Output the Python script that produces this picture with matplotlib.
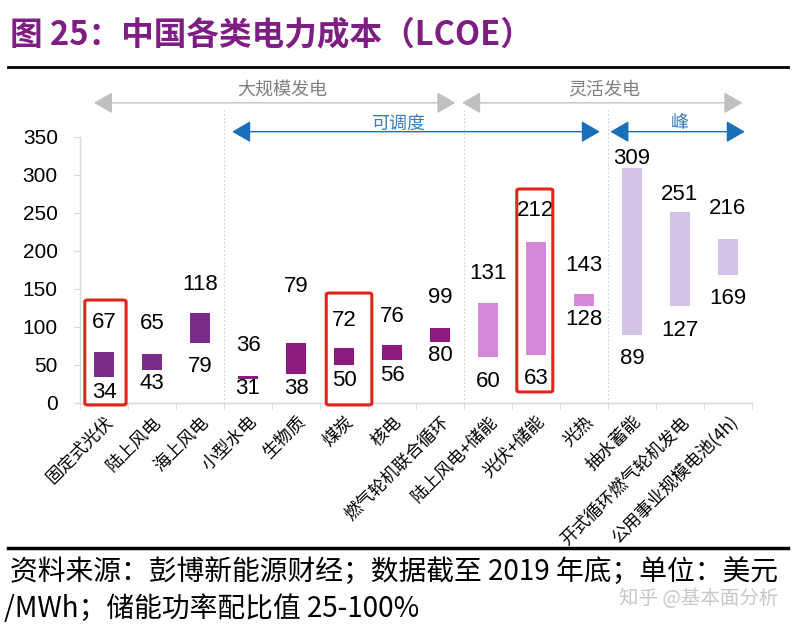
import matplotlib
matplotlib.use("Agg")
import matplotlib.pyplot as plt
from matplotlib.patches import FancyBboxPatch
import numpy as np

plt.rcParams['font.family'] = ['Noto Sans CJK SC', 'DejaVu Sans']

categories = ["固定式光伏", "陆上风电", "海上风电", "小型水电", "生物质", "煤炭", "核电",
              "燃气轮机联合循环", "陆上风电+储能", "光伏+储能", "光热", "抽水蓄能",
              "开式循环燃气轮机发电", "公用事业规模电池(4h)"]
low_values = [34, 43, 79, 31, 38, 50, 56, 80, 60, 63, 128, 89, 127, 169]
high_values = [67, 65, 118, 36, 79, 72, 76, 99, 131, 212, 143, 309, 251, 216]
y_ticks = [0, 50, 100, 150, 200, 250, 300, 350]

# styles
c_a, c_b, c_c, c_d = "#7B2D8E", "#8C1B7E", "#D487D8", "#D4C3E7"
bar_colors = [c_a, c_a, c_a, c_b, c_b, c_b, c_b, c_b, c_c, c_c, c_c, c_d, c_d, c_d]
top_off = [30, 30, 29, 30, 56, 28, 29, 30, 30, 31, 29, 10, 18, 30]
bot_off = [15, 13, 24, 9, 14, 15, 15, 13, 24, 23, 14, 23, 24, 24]
num_font = ['Liberation Sans', 'DejaVu Sans']

fig = plt.figure(figsize=(7.97, 6.28), dpi=100)
ax = fig.add_axes([80/797, 1-403/628, 672/797, 266/628])

x = np.arange(len(categories))
lows = np.array(low_values)
highs = np.array(high_values)
ax.bar(x, highs - lows, bottom=lows, width=0.42, color=bar_colors, zorder=3)

for i in range(len(x)):
    ax.annotate(str(high_values[i]), (x[i], high_values[i]), xytext=(0, top_off[i]),
                textcoords='offset pixels', ha='center', va='center', fontsize=16,
                family=num_font, color='black', zorder=5)
    ax.annotate(str(low_values[i]), (x[i], low_values[i]), xytext=(0, -bot_off[i]),
                textcoords='offset pixels', ha='center', va='center', fontsize=16,
                family=num_font, color='black', zorder=5)

ax.set_xlim(-0.5, len(categories) - 0.5)
ax.set_ylim(0, 350)
ax.set_yticks(y_ticks)
ax.set_yticklabels([str(v) for v in y_ticks], family=num_font, fontsize=15)
ax.tick_params(axis='y', length=4, color='#D9D9D9', pad=12)
ax.set_xticks(x)
ax.set_xticklabels(categories, rotation=45, ha='right', va='top', rotation_mode='anchor',
                   fontsize=12.5)
ax.tick_params(axis='x', length=0, pad=7)
ax.set_xticks(np.arange(-0.5, len(categories), 1), minor=True)
ax.tick_params(axis='x', which='minor', length=5, color='#D9D9D9')
for s in ['top', 'right']:
    ax.spines[s].set_visible(False)
for s in ['left', 'bottom']:
    ax.spines[s].set_color('#D9D9D9')
    ax.spines[s].set_linewidth(1)

# dotted separators
for xv in [2.5, 7.5, 10.5]:
    ax.plot([xv, xv], [0, 385], ls=(0, (1.5, 2)), color='#D0D0D0', lw=0.8, clip_on=False, zorder=1)

# group arrows
def arrow(x0, x1, y, color, lw):
    ax.annotate('', xy=(x1, y), xytext=(x0, y), xycoords='data', annotation_clip=False,
                arrowprops=dict(arrowstyle='<|-|>,head_length=0.5,head_width=0.29',
                                color=color, lw=lw, mutation_scale=23,
                                shrinkA=0, shrinkB=0))

gray = '#C0C0C0'
blue = '#1A6FBA'
arrow(-0.21, 7.32, 395, gray, 1.0)
arrow(7.46, 13.3, 395, gray, 1.0)
arrow(2.67, 10.33, 357, blue, 1.0)
arrow(10.55, 13.35, 357, blue, 1.0)
ax.text(3.71, 413, "大规模发电", ha='center', va='center', fontsize=13, color='#7F7F7F')
ax.text(10.42, 413, "灵活发电", ha='center', va='center', fontsize=13, color='#7F7F7F')
ax.text(6.15, 368, "可调度", ha='center', va='center', fontsize=13, color='#3A7CC0')
ax.text(12.0, 368, "峰", ha='center', va='center', fontsize=13, color='#3A7CC0')

# red highlight boxes
for (bx0, bx1, by0, by1) in [(-0.4, 0.46, -2.6, 135.5), (4.63, 5.58, -2.6, 144.7), (8.6, 9.35, 14.5, 281.6)]:
    p = FancyBboxPatch((bx0, by0), bx1 - bx0, by1 - by0,
                       boxstyle='round,pad=0,rounding_size=0.06', fill=False,
                       edgecolor='#E0261B', lw=2.2, clip_on=False, zorder=6,
                       mutation_aspect=35)
    ax.add_patch(p)

# title and footer
fig.text(10/797, 1-35/628, "图 25：中国各类电力成本（LCOE）", fontsize=23.5, fontweight='bold',
         color='#7E1E82', ha='left', va='center')
fig.add_artist(plt.Line2D([8/797, 788/797], [1-67/628, 1-67/628], color='black', lw=2))
fig.add_artist(plt.Line2D([8/797, 788/797], [1-548/628, 1-548/628], color='black', lw=2.5))
fig.text(10/797, 1-572/628, "资料来源：彭博新能源财经；数据截至 2019 年底；单位：美元",
         fontsize=20, ha='left', va='center', color='black')
fig.text(4/797, 1-609/628, "/MWh；储能功率配比值 25-100%",
         fontsize=20, ha='left', va='center', color='black')
fig.text(778/797, 1-599/628, "知乎 @基本面分析", fontsize=14, ha='right', va='center',
         color='#C8C8C8')

fig.savefig("out.png", dpi=100)
